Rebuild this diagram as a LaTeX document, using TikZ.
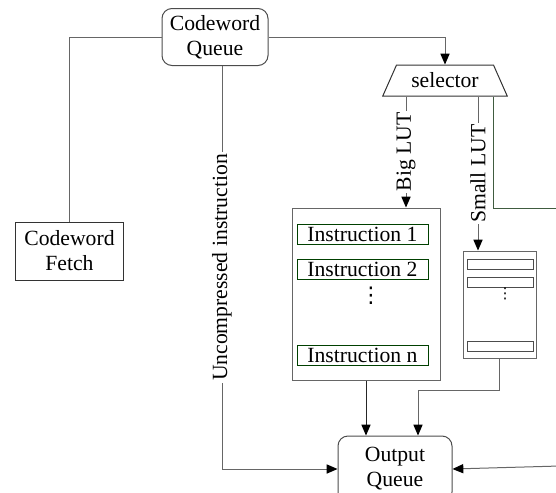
\documentclass[tikz,border=0pt]{standalone}
\usepackage{fontspec}
\setmainfont{Liberation Serif}
\newfontfamily\dotsfont{DejaVu Sans}
\usetikzlibrary{arrows.meta}
\usetikzlibrary{calc}
\usetikzlibrary{shapes.geometric}
\tikzset{
    % Solid black heads on all the data paths
    >={Triangle[length=6.5pt, width=5.5pt, color=black]},
%
    % Thin grey wire between two blocks
    wire/.style={draw=black!60, line width=0.6pt},
%
    % Text written along a vertical wire, blanking the wire behind it
    wire label/.style={rotate=90, fill=white, inner sep=1pt}}

\begin{document}
\begin{tikzpicture}[x=0.6pt, y=-0.6pt,
    font=\fontsize{13}{15}\selectfont,
    queue/.style={draw=black!70, line width=0.6pt, rounded corners=6pt,
        align=center, minimum width=63.6pt, minimum height=34.2pt},
    block/.style={draw=black!80, line width=0.6pt, align=center,
        minimum width=65.4pt, minimum height=34.8pt},
    lut box/.style={draw=black!60, line width=0.6pt, inner sep=0pt},
    entry/.style={draw=green!25!black, line width=0.6pt, inner sep=0pt,
        minimum width=78.6pt, minimum height=12pt},
    slot/.style={draw=black!70, line width=0.6pt, inner sep=0pt,
        minimum width=39.6pt, minimum height=6pt}]
\useasboundingbox (0,0) rectangle (556,493);
\clip (0,0) rectangle (556,493);

% Queues, fetch unit and the selector
\node[queue] at (215,37) (cw queue) {Codeword\\Queue};
\node[block] at (69.5,251) (cw fetch) {Codeword\\Fetch};
\node[draw=black!80, line width=0.6pt, trapezium, trapezium stretches=true,
    minimum width=75pt, minimum height=18.6pt, trapezium angle=58,
    inner sep=0pt] at (445,80.5) (selector) {selector};
\node[queue, minimum width=68.4pt, minimum height=39.6pt] at (395,469)
    (out queue) {Output\\Queue};

% Big lookup table and its entries
\node[lut box, minimum width=88.8pt, minimum height=103.2pt] at (366,294)
    (big lut) {};
\node[entry] at (362.5,234) (instr 1) {Instruction 1};
\node[entry] at (362.5,269) (instr 2) {Instruction 2};
\node[font=\dotsfont\fontsize{13}{15}\selectfont] at (371,296) (big dots) {⋮};
\node[entry] at (362.5,355) (instr n) {Instruction n};

% Small lookup table
\node[lut box, minimum width=43.8pt, minimum height=64.2pt] at (499.5,304.5)
    (small lut) {};
\node[slot] at (500,264) (slot 1) {};
\node[slot] at (500,282) (slot 2) {};
\node[font=\dotsfont\fontsize{9}{10}\selectfont] at (505,294) (small dots) {⋮};
\node[slot] at (500,346) (slot n) {};

% Loose ends running off to the right
\coordinate (exit) at (560,208);
\coordinate (entry) at (560,466);
\coordinate (join) at (418,390);

% Wires
\draw[wire] (cw queue.west) -| (cw fetch.north);
\draw[wire, ->] (cw queue.east) -| (selector.north);
\draw[wire, ->] ([xshift=4.2pt]cw queue.south) |- (out queue.west)
    node[pos=0.25, wire label] {Uncompressed instruction};

\draw[wire, ->] ([xshift=-23.4pt]selector.south) --
    ([xshift=-23.4pt]selector.south |- big lut.north)
    node[pos=0.5, wire label] {Big LUT};
\draw[wire, ->] ([xshift=19.8pt]selector.south) --
    ([xshift=19.8pt]selector.south |- small lut.north)
    node[pos=0.5, wire label] {Small LUT};
\draw[wire, draw=green!15!black!75] ([xshift=28.8pt]selector.south) |- (exit);

\draw[wire, draw=black!85, ->] (big lut.south) -- (big lut.south |- out queue.north);
\draw[wire, ->] (small lut.south) |- (join) -- (join |- out queue.north);
\draw[wire, ->] (entry) -- (out queue.east);
\end{tikzpicture}
\end{document}
